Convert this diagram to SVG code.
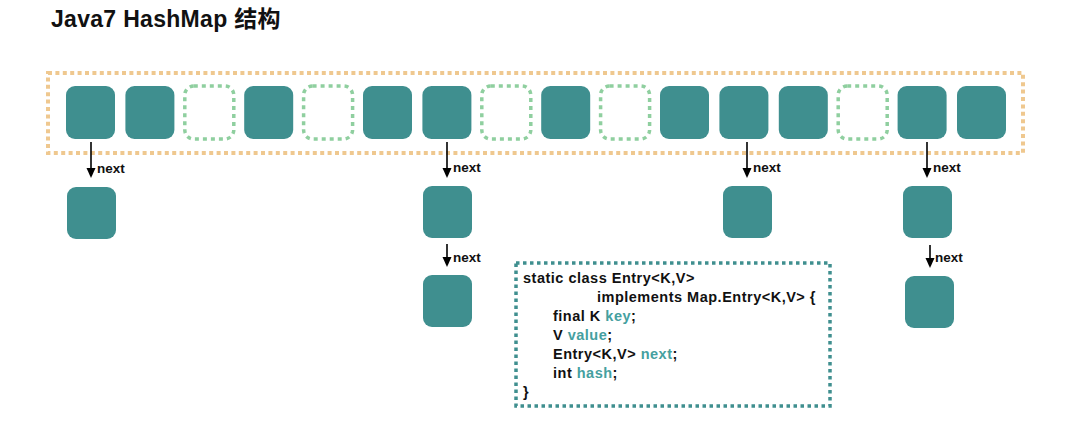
<svg xmlns="http://www.w3.org/2000/svg" width="1087" height="436" viewBox="0 0 1087 436">
<defs>
<style>
.cell{fill:#3f8f8f;}
.empty{fill:none;stroke:#8fcf9f;stroke-width:3.5;stroke-dasharray:4 4;}
.bucket{fill:none;stroke:#efc88f;stroke-width:4;stroke-dasharray:4 3.4;}
.code{fill:none;stroke:#3f8f8f;stroke-width:3.5;stroke-dasharray:3.5 3.5;}
.arrow{stroke:#000;stroke-width:1.6;fill:none;marker-end:url(#ah);}
.lbl{font-family:"Liberation Sans",Arial,sans-serif;font-weight:bold;font-size:13.5px;fill:#111;}
.title{font-family:"Liberation Sans","Noto Sans CJK SC",sans-serif;font-weight:bold;font-size:23px;fill:#111;letter-spacing:0.3px;}
.ct{font-family:"Liberation Sans",Arial,sans-serif;font-weight:bold;font-size:14.5px;fill:#111;letter-spacing:0.5px;}
.hl{fill:#45a0a0;}
</style>
<marker id="ah" markerUnits="userSpaceOnUse" markerWidth="10" markerHeight="10" refX="7" refY="4.5" orient="auto" viewBox="0 0 10 9">
<path d="M0,0 L10,4.5 L0,9 z" fill="#000"/>
</marker>
</defs>
<rect width="1087" height="436" fill="#fff"/>
<text id="title" class="title" x="51" y="27">Java7 HashMap 结构</text>

<g id="table">
<rect class="bucket" x="48" y="73" width="975" height="80"/>
</g>
<g id="b0"><rect class="cell" x="66" y="86" width="49" height="53" rx="9"/></g>
<g id="b1"><rect class="cell" x="125.4" y="86" width="49" height="53" rx="9"/></g>
<g id="b2"><rect class="empty" x="184.8" y="86" width="49" height="53" rx="9"/></g>
<g id="b3"><rect class="cell" x="244.2" y="86" width="49" height="53" rx="9"/></g>
<g id="b4"><rect class="empty" x="303.6" y="86" width="49" height="53" rx="9"/></g>
<g id="b5"><rect class="cell" x="363" y="86" width="49" height="53" rx="9"/></g>
<g id="b6"><rect class="cell" x="422.4" y="86" width="49" height="53" rx="9"/></g>
<g id="b7"><rect class="empty" x="481.8" y="86" width="49" height="53" rx="9"/></g>
<g id="b8"><rect class="cell" x="541.2" y="86" width="49" height="53" rx="9"/></g>
<g id="b9"><rect class="empty" x="600.6" y="86" width="49" height="53" rx="9"/></g>
<g id="b10"><rect class="cell" x="660" y="86" width="49" height="53" rx="9"/></g>
<g id="b11"><rect class="cell" x="719.4" y="86" width="49" height="53" rx="9"/></g>
<g id="b12"><rect class="cell" x="778.8" y="86" width="49" height="53" rx="9"/></g>
<g id="b13"><rect class="empty" x="838.2" y="86" width="49" height="53" rx="9"/></g>
<g id="b14"><rect class="cell" x="897.6" y="86" width="49" height="53" rx="9"/></g>
<g id="b15"><rect class="cell" x="957" y="86" width="49" height="53" rx="9"/></g>

<g id="n0a"><rect class="cell" x="67" y="187" width="49" height="52" rx="9"/></g>
<g id="n6a"><rect class="cell" x="423" y="186" width="49" height="52" rx="9"/></g>
<g id="n6b"><rect class="cell" x="423" y="275" width="49" height="52" rx="9"/></g>
<g id="n11a"><rect class="cell" x="723" y="186" width="49" height="52" rx="9"/></g>
<g id="n14a"><rect class="cell" x="903" y="186" width="49" height="52" rx="9"/></g>
<g id="n14b"><rect class="cell" x="905" y="276" width="49" height="52" rx="9"/></g>

<g id="connectors">
<line class="arrow" x1="91" y1="142" x2="91" y2="175"/>
<text class="lbl" x="97" y="173">next</text>
<line class="arrow" x1="447" y1="142" x2="447" y2="175"/>
<text class="lbl" x="453" y="172">next</text>
<line class="arrow" x1="447" y1="244" x2="447" y2="264"/>
<text class="lbl" x="453" y="262">next</text>
<line class="arrow" x1="747" y1="142" x2="747" y2="175"/>
<text class="lbl" x="753" y="172">next</text>
<line class="arrow" x1="927" y1="142" x2="927" y2="175"/>
<text class="lbl" x="933" y="172">next</text>
<line class="arrow" x1="930" y1="245" x2="930" y2="265"/>
<text class="lbl" x="935" y="262">next</text>
</g>

<g id="entry">
<rect class="code" x="516" y="263" width="314" height="143"/>
<text class="ct" x="523" y="282.5">static class Entry&lt;K,V&gt;</text>
<text class="ct" x="597" y="301.5">implements Map.Entry&lt;K,V&gt; {</text>
<text class="ct" x="553" y="320.5">final K <tspan class="hl">key</tspan>;</text>
<text class="ct" x="553" y="339.5">V <tspan class="hl">value</tspan>;</text>
<text class="ct" x="553" y="358.5">Entry&lt;K,V&gt; <tspan class="hl">next</tspan>;</text>
<text class="ct" x="553" y="377.5">int <tspan class="hl">hash</tspan>;</text>
<text class="ct" x="523" y="396.5">}</text>
</g>
</svg>
